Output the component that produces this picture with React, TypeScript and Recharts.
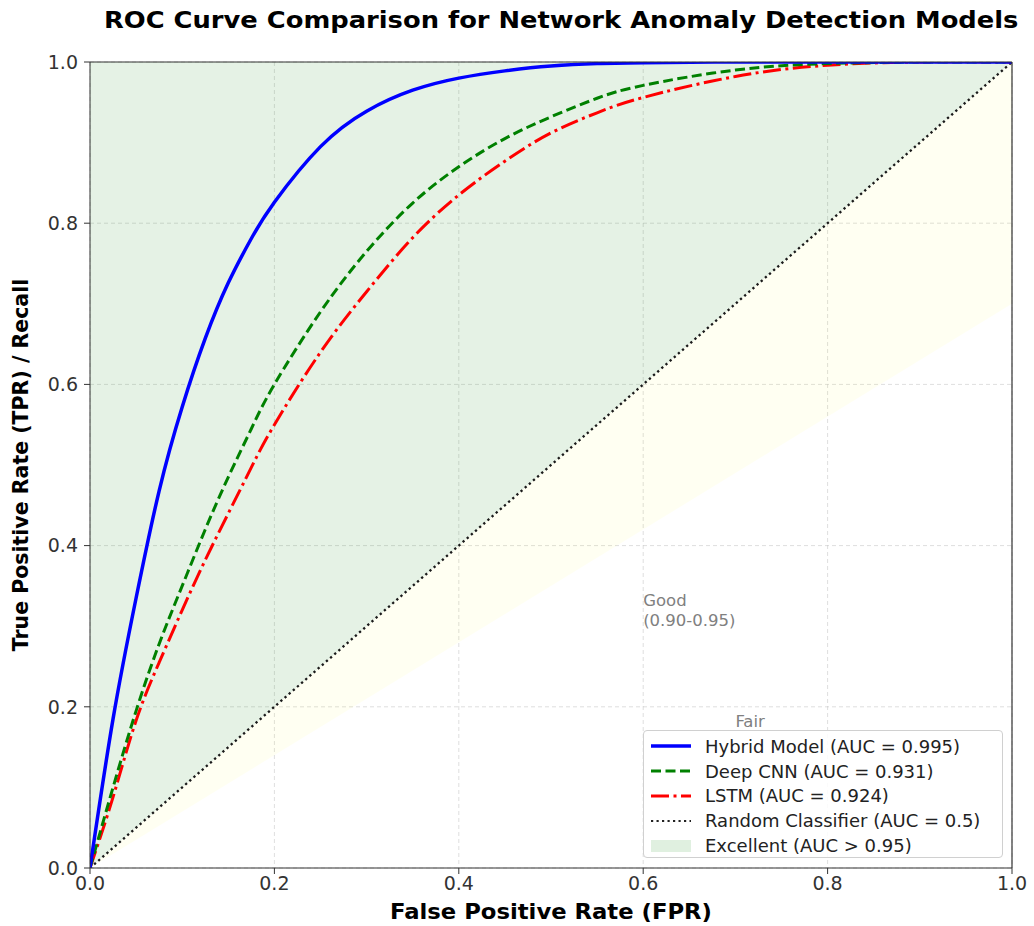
import React from "react";
import {
  Area,
  CartesianGrid,
  ComposedChart,
  Line,
  ReferenceDot,
  ReferenceLine,
  XAxis,
  YAxis,
} from "recharts";

// ROC points
const fpr = [0, 0.025, 0.05, 0.075, 0.1, 0.125, 0.15, 0.175, 0.2, 0.25, 0.3, 0.35, 0.4, 0.45, 0.5, 0.55, 0.6, 0.7, 0.8, 0.9, 1.0];
const hybridTpr = [0, 0.185, 0.335, 0.468, 0.572, 0.657, 0.726, 0.781, 0.826, 0.895, 0.939, 0.965, 0.98, 0.989, 0.995, 0.998, 0.999, 1, 1, 1, 1];
const cnnTpr = [0, 0.1, 0.195, 0.278, 0.35, 0.42, 0.485, 0.545, 0.6, 0.69, 0.765, 0.825, 0.87, 0.905, 0.932, 0.955, 0.971, 0.99, 0.998, 1, 1];
const lstmTpr = [0, 0.088, 0.183, 0.255, 0.32, 0.382, 0.44, 0.497, 0.55, 0.64, 0.715, 0.782, 0.835, 0.877, 0.912, 0.937, 0.956, 0.982, 0.996, 1, 1];

// straight reference lines / bands (two end points each)
const edgeFpr = [0, 1];
const randomTpr = [0, 1];
const excellentLow = [0, 1];
const excellentHigh = [1, 1];
const goodLow = [0, 0.7];
const goodHigh = [0, 1];

const ticks = [0, 0.2, 0.4, 0.6, 0.8, 1.0];

const legendItems = [
  { label: "Hybrid Model (AUC = 0.995)", color: "#0000ff", dash: "", width: 3.5 },
  { label: "Deep CNN (AUC = 0.931)", color: "#008000", dash: "10 4.5", width: 3 },
  { label: "LSTM (AUC = 0.924)", color: "#ff0000", dash: "18 4.5 3 4.5", width: 3 },
  { label: "Random Classifier (AUC = 0.5)", color: "#222222", dash: "2.2 3.3", width: 2.2 },
];

const rocData = fpr.map((x, i) => ({
  fpr: x,
  hybrid: hybridTpr[i],
  cnn: cnnTpr[i],
  lstm: lstmTpr[i],
}));
const randomData = edgeFpr.map((x, i) => ({ fpr: x, tpr: randomTpr[i] }));
const excellentData = edgeFpr.map((x, i) => ({ fpr: x, band: [excellentLow[i], excellentHigh[i]] }));
const goodData = edgeFpr.map((x, i) => ({ fpr: x, band: [goodLow[i], goodHigh[i]] }));

const FONT = "'DejaVu Sans', sans-serif";

export default function App() {
  return (
    <div
      style={{
        position: "absolute",
        left: 0,
        top: 0,
        width: 1034,
        height: 926,
        background: "#fff",
        fontFamily: FONT,
        overflow: "hidden",
      }}
    >
      <div
        style={{
          position: "absolute",
          left: 0,
          width: 1122,
          top: 7,
          textAlign: "center",
          whiteSpace: "nowrap",
        }}
      >
        <span
          style={{
            display: "inline-block",
            fontSize: 23,
            fontWeight: "bold",
            color: "#000",
            transform: "scaleX(1.12)",
          }}
        >
          ROC Curve Comparison for Network Anomaly Detection Models
        </span>
      </div>

      <ComposedChart
        width={1034}
        height={926}
        margin={{ top: 62, right: 22, bottom: 0, left: 0 }}
        style={{ fontFamily: FONT }}
      >
        <CartesianGrid stroke="#c8c8c8" strokeOpacity={0.6} strokeDasharray="4 3" />
        <XAxis
          type="number"
          dataKey="fpr"
          domain={[0, 1]}
          ticks={ticks}
          tickFormatter={(v) => v.toFixed(1)}
          height={58}
          tickSize={6}
          tickMargin={3}
          stroke="#333"
          tick={{ fill: "#333", fontSize: 19 }}
          allowDataOverflow
          label={({ viewBox }: any) => (
            <text
              x={viewBox.x + viewBox.width / 2}
              y={viewBox.y + 51}
              textAnchor="middle"
              fontSize={20.5}
              fontWeight="bold"
              fill="#000"
              textLength={322}
              lengthAdjust="spacingAndGlyphs"
            >
              False Positive Rate (FPR)
            </text>
          )}
        />
        <YAxis
          type="number"
          domain={[0, 1]}
          ticks={ticks}
          tickFormatter={(v) => v.toFixed(1)}
          width={90}
          tickSize={6}
          tickMargin={6}
          stroke="#333"
          tick={{ fill: "#333", fontSize: 19 }}
          allowDataOverflow
          label={({ viewBox }: any) => {
            const cx = 28;
            const cy = viewBox.y + viewBox.height / 2;
            return (
              <text
                x={cx}
                y={cy}
                transform={`rotate(-90, ${cx}, ${cy})`}
                textAnchor="middle"
                fontSize={20.5}
                fontWeight="bold"
                fill="#000"
              >
                True Positive Rate (TPR) / Recall
              </text>
            );
          }}
        />

        <Area
          data={goodData}
          dataKey="band"
          type="linear"
          fill="#ffff00"
          fillOpacity={0.05}
          stroke="none"
          isAnimationActive={false}
        />
        <Area
          data={excellentData}
          dataKey="band"
          type="linear"
          fill="#008000"
          fillOpacity={0.1}
          stroke="none"
          isAnimationActive={false}
        />

        <Line
          data={randomData}
          dataKey="tpr"
          type="linear"
          stroke="#1a1a1a"
          strokeWidth={2.3}
          strokeDasharray="2.3 3.2"
          dot={false}
          isAnimationActive={false}
        />
        <Line
          data={rocData}
          dataKey="lstm"
          type="natural"
          stroke="#ff0000"
          strokeWidth={3}
          strokeDasharray="18 4.5 3 4.5"
          dot={false}
          isAnimationActive={false}
        />
        <Line
          data={rocData}
          dataKey="cnn"
          type="natural"
          stroke="#008000"
          strokeWidth={3}
          strokeDasharray="10 4.5"
          dot={false}
          isAnimationActive={false}
        />
        <Line
          data={rocData}
          dataKey="hybrid"
          type="natural"
          stroke="#0000ff"
          strokeWidth={3.5}
          dot={false}
          isAnimationActive={false}
        />

        <ReferenceLine y={1} stroke="#333" strokeWidth={1.2} />
        <ReferenceLine x={1} stroke="#333" strokeWidth={1.2} />

        <ReferenceDot
          x={0.6}
          y={0.3}
          r={1}
          fill="none"
          stroke="none"
          label={({ viewBox }: any) => (
            <g fontSize={16.5} fill="#808080">
              <text x={viewBox.x + 1} y={viewBox.y - 19}>Good</text>
              <text x={viewBox.x + 1} y={viewBox.y + 1}>(0.90-0.95)</text>
            </g>
          )}
        />
        <ReferenceDot
          x={0.7}
          y={0.175}
          r={1}
          fill="none"
          stroke="none"
          label={({ viewBox }: any) => (
            <text x={viewBox.x + 1} y={viewBox.y + 1} fontSize={16.5} fill="#808080">
              Fair
            </text>
          )}
        />
      </ComposedChart>

      <div
        style={{
          position: "absolute",
          left: 643,
          top: 730,
          width: 360,
          height: 128,
          border: "1px solid #d0d0d0",
          borderRadius: 4,
          background: "rgba(255,255,255,0.85)",
          boxSizing: "border-box",
          padding: "3px 0 0 6px",
          fontSize: 18,
          color: "#222",
        }}
      >
        {legendItems.map((item) => (
          <div key={item.label} style={{ display: "flex", alignItems: "center", height: 24.8 }}>
            <svg width={42} height={12} style={{ marginRight: 13 }}>
              <line
                x1={1}
                x2={41}
                y1={6}
                y2={6}
                stroke={item.color}
                strokeWidth={item.width}
                strokeDasharray={item.dash || undefined}
              />
            </svg>
            <span style={{ whiteSpace: "nowrap" }}>{item.label}</span>
          </div>
        ))}
        <div style={{ display: "flex", alignItems: "center", height: 24.8 }}>
          <svg width={42} height={14} style={{ marginRight: 13 }}>
            <rect x={1} y={1} width={40} height={12} fill="#008000" fillOpacity={0.12} />
          </svg>
          <span style={{ whiteSpace: "nowrap" }}>Excellent (AUC &gt; 0.95)</span>
        </div>
      </div>
    </div>
  );
}
